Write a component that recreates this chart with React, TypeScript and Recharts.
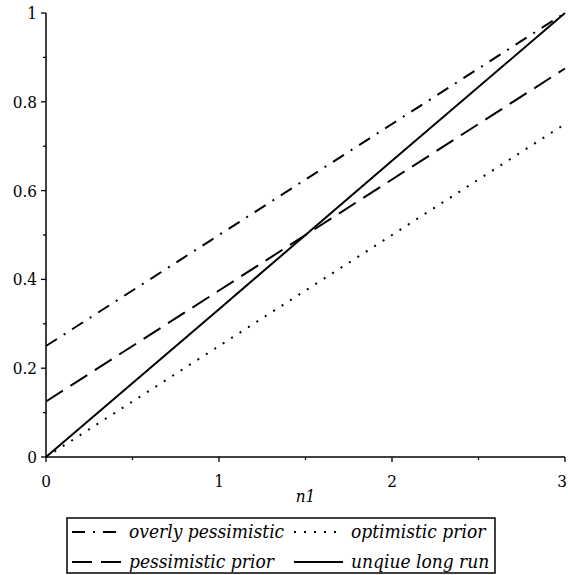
import React from "react";
import { LineChart, Line, XAxis, YAxis } from "recharts";

// values at n1 = 0, 1, 2, 3
const n1Values = [0, 1, 2, 3];
const overlyPessimistic = [0.25, 0.5, 0.75, 1];
const pessimisticPrior = [0.125, 0.375, 0.625, 0.875];
const optimisticPrior = [0, 0.25, 0.5, 0.75];
const unqiueLongRun = [0, 0.333, 0.667, 1];

const xTicks = [0, 0.5, 1, 1.5, 2, 2.5, 3];
const xLabels = ["0", "", "1", "", "2", "", "3"];
const yTicks = [0, 0.1, 0.2, 0.3, 0.4, 0.5, 0.6, 0.7, 0.8, 0.9, 1];
const yLabels = ["0", "", "0.2", "", "0.4", "", "0.6", "", "0.8", "", "1"];

const series = [
  { key: "overly", name: "overly pessimistic", values: overlyPessimistic, dash: "13 8 2 8" },
  { key: "pess", name: "pessimistic prior", values: pessimisticPrior, dash: "20 9" },
  { key: "opt", name: "optimistic prior", values: optimisticPrior, dash: "2 8" },
  { key: "ulr", name: "unqiue long run", values: unqiueLongRun, dash: undefined },
];

const data = n1Values.map((n, i) => {
  const row: Record<string, number> = { n1: n };
  series.forEach((s) => (row[s.key] = s.values[i]));
  return row;
});

const FONT = "DejaVu Serif Condensed, DejaVu Serif, serif";

function YTick({ x, y, index }: any) {
  const label = yLabels[index] ?? "";
  return (
    <g>
      <line x1={x - (label ? 5 : 3)} x2={x} y1={y} y2={y} stroke="#000" strokeWidth={1.3} />
      {label && (
        <text x={x - 9} y={y} dy="0.35em" textAnchor="end" fontFamily={FONT} fontSize={17} fill="#000">
          {label}
        </text>
      )}
    </g>
  );
}

function XTick({ x, y, index }: any) {
  const label = xLabels[index] ?? "";
  // last label sits at the right edge, nudge it in so it is not clipped
  const last = index === xTicks.length - 1;
  return (
    <g>
      <line x1={x} x2={x} y1={y} y2={y + (label ? 5 : 3)} stroke="#000" strokeWidth={1.3} />
      {label && (
        <text x={last ? x - 3 : x} y={y + 30} textAnchor="middle" fontFamily={FONT} fontSize={17} fill="#000">
          {label}
        </text>
      )}
    </g>
  );
}

function LegendBox() {
  const cols = [5, 227];
  const rows = [14, 44];
  return (
    <svg width={430} height={57} style={{ position: "absolute", left: 66, top: 517 }}>
      <rect x={1} y={1} width={428} height={55} fill="#fff" stroke="#000" strokeWidth={1.5} />
      {series.map((s, i) => {
        const cx = cols[Math.floor(i / 2)] + 1;
        const cy = rows[i % 2] + 1;
        return (
          <g key={s.key}>
            <line x1={cx} x2={cx + 49} y1={cy} y2={cy} stroke="#000" strokeWidth={2} strokeDasharray={s.dash} />
            <text x={cx + 57} y={cy} dy="0.32em" fontFamily={FONT} fontStyle="italic" fontSize={19} fill="#000">
              {s.name}
            </text>
          </g>
        );
      })}
    </svg>
  );
}

export default function App() {
  return (
    <div
      style={{
        position: "absolute",
        left: 0,
        top: 0,
        width: 568,
        height: 575,
        overflow: "hidden",
        background: "#fff",
        fontFamily: FONT,
      }}
    >
      <LineChart width={568} height={508} data={data} margin={{ top: 13, right: 3, bottom: 0, left: 0 }}>
        <XAxis
          dataKey="n1"
          type="number"
          domain={[0, 3]}
          ticks={xTicks}
          interval={0}
          height={51}
          tickSize={0}
          tickMargin={0}
          tick={<XTick />}
          axisLine={{ stroke: "#000", strokeWidth: 1.5 }}
          tickLine={false}
          label={{
            value: "n1",
            position: "insideBottom",
            offset: 6,
            fontFamily: FONT,
            fontStyle: "italic",
            fontSize: 17,
            fill: "#000",
          }}
        />
        <YAxis
          type="number"
          domain={[0, 1]}
          ticks={yTicks}
          interval={0}
          width={46}
          tickSize={0}
          tickMargin={0}
          tick={<YTick />}
          axisLine={{ stroke: "#000", strokeWidth: 1.5 }}
          tickLine={false}
        />
        {series.map((s) => (
          <Line
            key={s.key}
            dataKey={s.key}
            name={s.name}
            type="linear"
            stroke="#000"
            strokeWidth={2}
            strokeDasharray={s.dash}
            dot={false}
            activeDot={false}
            isAnimationActive={false}
          />
        ))}
      </LineChart>
      <LegendBox />
    </div>
  );
}
